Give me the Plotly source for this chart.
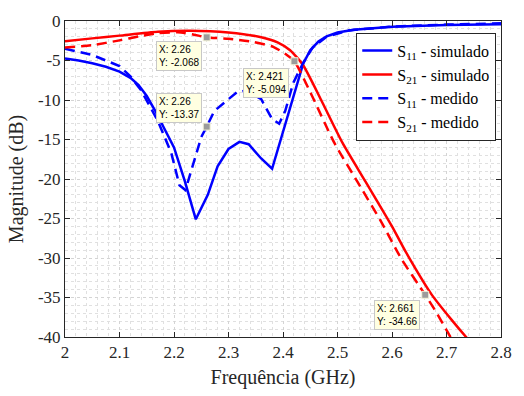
import plotly.graph_objects as go

# ---- data ----
s11_sim_x = [2.0, 2.025, 2.05, 2.075, 2.1, 2.12, 2.135, 2.15, 2.165, 2.18, 2.2, 2.22, 2.24, 2.262, 2.28, 2.3, 2.32, 2.337, 2.36, 2.38, 2.41, 2.437, 2.45, 2.465, 2.48, 2.5, 2.53, 2.56, 2.6, 2.7, 2.8]
s11_sim_y = [-4.75, -5.0, -5.35, -5.8, -6.4, -7.2, -8.1, -9.5, -11.3, -13.3, -16.0, -20.3, -25.1, -22.0, -18.4, -16.2, -15.3, -15.6, -17.4, -18.7, -11.8, -5.4, -3.7, -2.6, -1.95, -1.45, -1.1, -0.9, -0.72, -0.5, -0.4]

s21_sim_x = [2.0, 2.05, 2.1, 2.17, 2.23, 2.3, 2.36, 2.39, 2.413, 2.437, 2.47, 2.509, 2.552, 2.6, 2.625, 2.6725, 2.709, 2.736, 2.76]
s21_sim_y = [-2.55, -2.2, -1.85, -1.35, -1.22, -1.45, -2.05, -2.7, -3.7, -5.6, -10.0, -15.4, -20.4, -26.0, -29.2, -34.6, -37.8, -40.0, -41.8]

s11_med_x = [2.0, 2.05, 2.1, 2.12, 2.14, 2.17, 2.195, 2.21, 2.221, 2.232, 2.25, 2.26, 2.274, 2.298, 2.316, 2.334, 2.36, 2.38, 2.393, 2.404, 2.419, 2.437, 2.455, 2.48, 2.52, 2.6, 2.7, 2.8]
s11_med_y = [-3.5, -4.3, -5.7, -7.0, -8.8, -12.6, -16.7, -20.8, -21.4, -18.8, -14.7, -13.37, -11.4, -10.0, -9.0, -8.8, -9.9, -12.4, -13.0, -11.4, -7.8, -5.3, -3.3, -2.0, -1.2, -0.7, -0.45, -0.3]

s21_med_x = [2.0, 2.05, 2.1, 2.135, 2.17, 2.207, 2.235, 2.26, 2.3, 2.346, 2.383, 2.407, 2.421, 2.45, 2.494, 2.537, 2.58, 2.618, 2.661, 2.678, 2.704, 2.72]
s21_med_y = [-3.35, -3.05, -2.45, -1.95, -1.55, -1.43, -1.7, -2.068, -2.25, -2.65, -3.3, -4.3, -5.094, -9.0, -15.4, -20.4, -25.4, -30.2, -34.66, -36.5, -39.6, -41.6]

series_names = ["S<sub>11</sub> - simulado", "S<sub>21</sub> - simulado",
                "S<sub>11</sub> - medido", "S<sub>21</sub> - medido"]

# data tips
tip_x = [2.26, 2.26, 2.421, 2.661]
tip_y = [-2.068, -13.37, -5.094, -34.66]
tip_text = ["X: 2.26<br>Y: -2.068", "X: 2.26<br>Y: -13.37", "X: 2.421<br>Y: -5.094", "X: 2.661<br>Y: -34.66"]
tip_place = [("top", -5, -4), ("bottom", -5, 4), ("top", -5, -7), ("top", -5, -5)]

x_ticks = [2.0, 2.1, 2.2, 2.3, 2.4, 2.5, 2.6, 2.7, 2.8]
x_ticklabels = ["2", "2.1", "2.2", "2.3", "2.4", "2.5", "2.6", "2.7", "2.8"]
y_ticks = [0, -5, -10, -15, -20, -25, -30, -35, -40]
y_ticklabels = ["0", "-5", "-10", "-15", "-20", "-25", "-30", "-35", "-40"]

BLUE = "#0000ff"
RED = "#ff0000"
DASH = "10px,6px"
SERIF = "Liberation Serif, Times New Roman, serif"
AX = "#262626"

fig = go.Figure()
fig.add_trace(go.Scatter(x=s11_sim_x, y=s11_sim_y, mode="lines", name=series_names[0],
                         line=dict(color=BLUE, width=2.5)))
fig.add_trace(go.Scatter(x=s21_sim_x, y=s21_sim_y, mode="lines", name=series_names[1],
                         line=dict(color=RED, width=2.5, shape="spline", smoothing=0.6)))
fig.add_trace(go.Scatter(x=s11_med_x, y=s11_med_y, mode="lines", name=series_names[2],
                         line=dict(color=BLUE, width=2.5, dash=DASH)))
fig.add_trace(go.Scatter(x=s21_med_x, y=s21_med_y, mode="lines", name=series_names[3],
                         line=dict(color=RED, width=2.5, dash=DASH, shape="spline", smoothing=0.6)))
fig.add_trace(go.Scatter(x=tip_x, y=tip_y, mode="markers", showlegend=False,
                         marker=dict(symbol="square", size=7, color="#9b9b9b",
                                     line=dict(color="#f4f4d8", width=1))))

for tx, ty, tt, (anc, xs, ys) in zip(tip_x, tip_y, tip_text, tip_place):
    fig.add_annotation(x=tx, y=ty, text=tt, showarrow=False, xanchor="right", yanchor=anc,
                       xshift=xs, yshift=ys, align="left",
                       font=dict(family="Liberation Sans, Arial, sans-serif", size=10, color="#000000"),
                       bgcolor="#ffffe1", bordercolor="#c8c8c8", borderwidth=1, borderpad=2)

axis_common = dict(showline=True, linecolor=AX, linewidth=1, mirror="allticks",
                   ticks="inside", ticklen=5, tickcolor=AX,
                   showgrid=True, gridcolor="#d4d4d4", griddash="dot", gridwidth=1,
                   zeroline=False,
                   tickfont=dict(family=SERIF, size=17, color=AX))

fig.update_xaxes(range=[2.0, 2.8], tickvals=x_ticks, ticktext=x_ticklabels,
                 minor=dict(dtick=0.02, showgrid=True, gridcolor="#e0e0e0", griddash="dot", ticks=""),
                 title=dict(text="Frequência (GHz)", font=dict(family=SERIF, size=20, color=AX), standoff=8),
                 **axis_common)
fig.update_yaxes(range=[-40, 0], tickvals=y_ticks, ticktext=y_ticklabels,
                 minor=dict(dtick=1, showgrid=True, gridcolor="#e0e0e0", griddash="dot", ticks=""),
                 title=dict(text="Magnitude (dB)", font=dict(family=SERIF, size=20, color=AX), standoff=8),
                 **axis_common)

fig.update_layout(width=524, height=396, margin=dict(l=65, r=17, t=13, b=56),
                  plot_bgcolor="white", paper_bgcolor="white",
                  legend=dict(x=0.668, y=0.963, xanchor="left", yanchor="top",
                              bgcolor="white", bordercolor=AX, borderwidth=1,
                              font=dict(family=SERIF, size=16, color="#000000"),
                              tracegroupgap=0, itemwidth=30),
                  showlegend=True)

fig.write_html("out.html")
